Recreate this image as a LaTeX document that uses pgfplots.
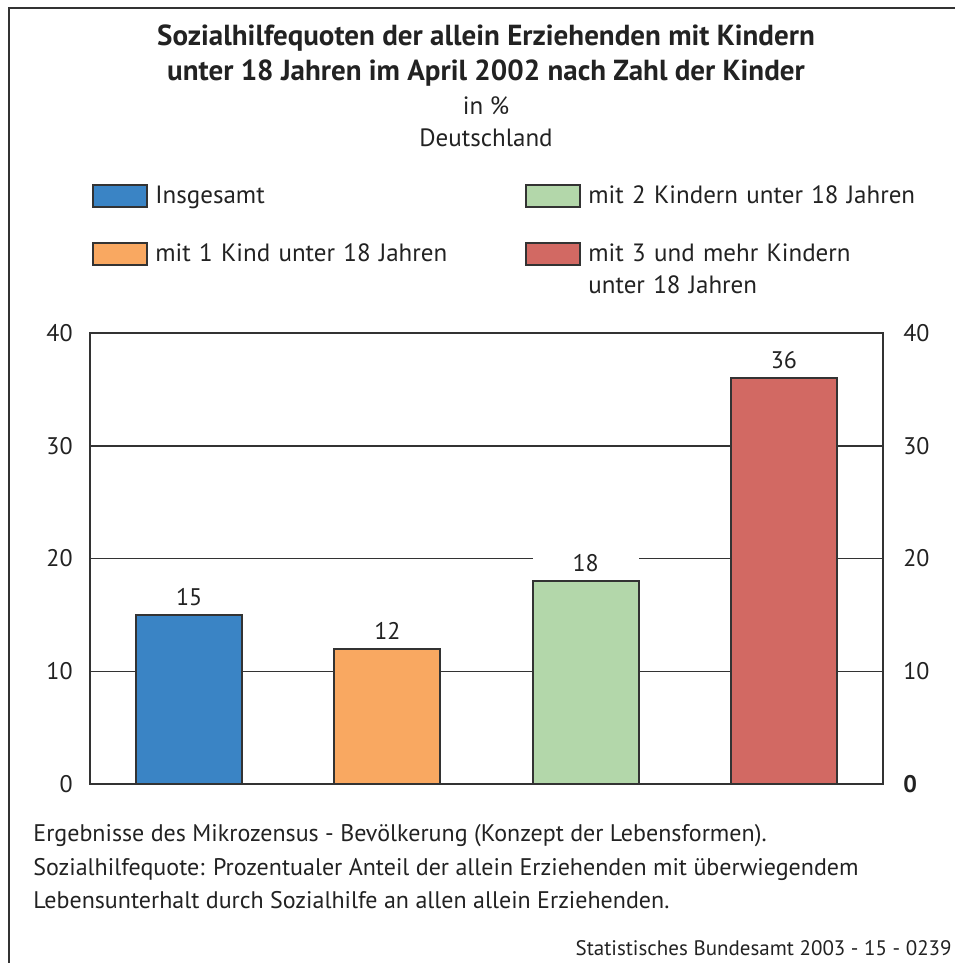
\documentclass[border=0pt]{standalone}
\usepackage{pgfplots}
\pgfplotsset{compat=1.18}
\usepackage{fontspec}
\setmainfont{PT Sans}

\definecolor{cBlue}{RGB}{58,132,197}
\definecolor{cOrange}{RGB}{249,168,97}
\definecolor{cGreen}{RGB}{179,215,170}
\definecolor{cRed}{RGB}{210,105,99}
\definecolor{cLine}{RGB}{51,51,51}
\definecolor{cText}{RGB}{34,34,34}

\newcommand{\txt}{\fontsize{12pt}{16pt}\selectfont}
\newcommand{\body}{\fontsize{12.5pt}{16pt}\selectfont}

\begin{document}
\begin{tikzpicture}
\useasboundingbox (0,0) rectangle (477pt,-481.5pt);

% frame (only left and top edges are inside the picture)
\draw[cLine, line width=1pt] (4.25pt,-482pt) -- (4.25pt,-4.25pt) -- (480pt,-4.25pt);

% title block
\node[font=\fontsize{14.5pt}{17pt}\selectfont\bfseries, text=cText] at (243pt,-19pt)
  {Sozialhilfequoten der allein Erziehenden mit Kindern};
\node[font=\fontsize{14.5pt}{17pt}\selectfont\bfseries, text=cText] at (243pt,-36.5pt)
  {unter 18 Jahren im April 2002 nach Zahl der Kinder};
\node[font=\body, text=cText] at (243pt,-53pt) {in \%};
\node[font=\body, text=cText] at (243pt,-69pt) {Deutschland};

% ── bars ───────────────────────────────────────────────────────────────
\begin{axis}[
  at={(45pt,-392pt)}, anchor=south west,
  scale only axis, width=396.5pt, height=225.5pt,
  xmin=-0.5, xmax=3.5, ymin=0, ymax=40,
  xtick=\empty, ytick={0,10,20,30,40},
  ymajorgrids, grid style={cLine, line width=0.75pt},
  axis line style={cLine, line width=0.75pt},
  major tick length=0pt,
  tick label style={font=\txt, text=cText},
  /pgf/number format/assume math mode=true,
  yticklabel style={inner sep=0pt, xshift=-8.5pt},
  ybar, bar width=53pt, bar shift=0pt,
  nodes near coords,
  every node near coord/.append style={font=\txt, text=cText, fill=white,
    minimum width=53pt, inner sep=1.5pt, yshift=2.5pt},
  legend columns=2,
  legend style={at={(-0.005,1.3393)}, anchor=north west,
    draw=none, fill=none, font=\body, text=cText,
    nodes={inner sep=0pt, text width=180pt, align=left},
    /tikz/every odd column/.style={column sep=3.5pt},
    /tikz/every even column/.style={column sep=5pt},
    row sep=17pt},
  legend image code/.code={\draw[#1] (0pt,-5.5pt) rectangle (27pt,5.5pt);},
]
\addplot[fill=cBlue, draw=cLine, line width=1pt] coordinates {(0,15)};
\addlegendentry{Insgesamt}
\addplot[fill=cGreen, draw=cLine, line width=1pt] coordinates {(2,18)};
\addlegendentry{mit 2 Kindern unter 18 Jahren}
\addplot[fill=cOrange, draw=cLine, line width=1pt] coordinates {(1,12)};
\addlegendentry{mit 1 Kind unter 18 Jahren}
\addplot[fill=cRed, draw=cLine, line width=1pt] coordinates {(3,36)};
\addlegendentry{mit 3 und mehr Kindern\\unter 18 Jahren}
\end{axis}

% right-hand tick labels
\begin{axis}[
  at={(45pt,-392pt)}, anchor=south west,
  scale only axis, width=396.5pt, height=225.5pt,
  xmin=-0.5, xmax=3.5, ymin=0, ymax=40,
  axis x line=none, axis y line*=right,
  axis line style={draw=none},
  ytick={0,10,20,30,40},
  yticklabels={\textbf{0},10,20,30,40},
  major tick length=0pt,
  yticklabel style={inner sep=0pt, xshift=10pt, font=\txt, text=cText},
]
\end{axis}

% notes
\node[font=\txt, text=cText, anchor=mid west, inner sep=0pt] at (16.5pt,-418pt)
  {Ergebnisse des Mikrozensus - Bevölkerung (Konzept der Lebensformen).};
\node[font=\txt, text=cText, anchor=mid west, inner sep=0pt] at (16.5pt,-435pt)
  {Sozialhilfequote: Prozentualer Anteil der allein Erziehenden mit überwiegendem};
\node[font=\txt, text=cText, anchor=mid west, inner sep=0pt] at (16.5pt,-451.5pt)
  {Lebensunterhalt durch Sozialhilfe an allen allein Erziehenden.};
\node[font=\fontsize{10.5pt}{13pt}\selectfont, text=cText, anchor=mid east, inner sep=0pt] at (476pt,-475pt)
  {Statistisches Bundesamt 2003 - 15 - 0239};
\end{tikzpicture}
\end{document}
